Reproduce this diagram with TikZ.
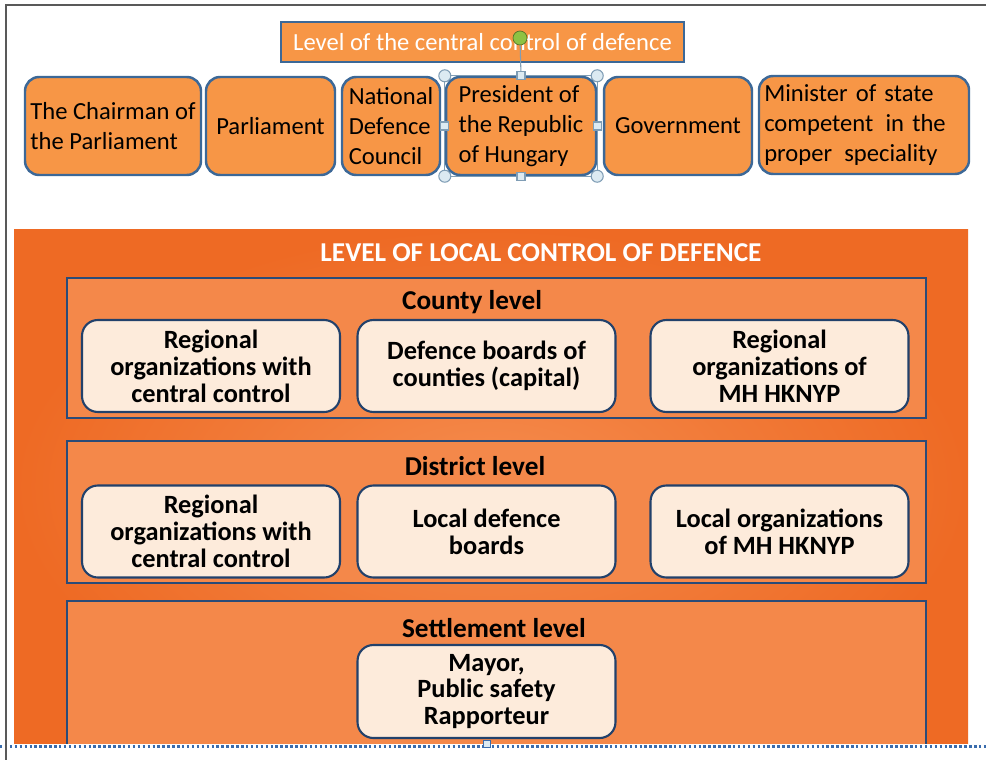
\documentclass[tikz,border=0pt]{standalone}
\usepackage{fontspec}
\setmainfont{Carlito}
\usepackage{tikz}

\definecolor{topfill}{HTML}{F79646}
\definecolor{topline}{HTML}{3C6897}
\definecolor{panelin}{HTML}{F58C4E}
\definecolor{panelout}{HTML}{EE6A24}
\definecolor{levelfill}{HTML}{F4884A}
\definecolor{levelline}{HTML}{2A4B78}
\definecolor{unitfill}{HTML}{FDEBDB}
\definecolor{unitline}{HTML}{22416B}
\definecolor{handlefill}{HTML}{DCEAF2}
\definecolor{handleline}{HTML}{7F9DB5}
\definecolor{gripfill}{HTML}{8DC243}
\definecolor{cutline}{HTML}{3A6CAD}

\begin{document}
\begin{tikzpicture}[x=0.02cm, y=-0.02cm,
    topbox/.style={draw=topline, line width=1.4pt, fill=topfill, rounded corners=8pt,
        minimum height=1.96cm, inner sep=3pt, font=\fontsize{14}{17}\selectfont},
    titlebox/.style={draw=topline, line width=1pt, fill=topfill, text=white,
        minimum width=8.06cm, minimum height=0.8cm, font=\fontsize{14}{17}\selectfont},
    levelbox/.style={draw=levelline, line width=1.2pt, fill=levelfill, minimum width=17.18cm},
    leveltitle/.style={font=\bfseries\fontsize{15.5}{16}\selectfont},
    unitbox/.style={draw=unitline, line width=1.2pt, fill=unitfill, rounded corners=9pt,
        minimum width=5.16cm, minimum height=1.84cm, align=center,
        font=\bfseries\fontsize{15}{15.3}\selectfont},
    handle/.style={draw=handleline, fill=handlefill, line width=0.6pt}
]
    \def\toprow{126}
    \def\cutat{743}
    \useasboundingbox (0,0) rectangle (986,760);
    \fill[white] (0,0) rectangle (986,760);

    \node[titlebox] (central) at (482.5,42) {Level of the central control of defence};

    \node[topbox, minimum width=3.52cm, align=left] (chair) at (113,\toprow) {The Chairman of\\the Parliament};
    \node[topbox, minimum width=2.58cm, align=center] (parl) at (270.5,\toprow) {Parliament};
    \node[topbox, minimum width=1.96cm, align=left] (ndc) at (391,\toprow) {National\\Defence\\Council};
    \node[topbox, minimum width=3cm, align=left] (pres) at (521,\toprow) {President of\\the Republic\\of Hungary};
    \node[topbox, minimum width=2.96cm, align=center] (gov) at (678,\toprow) {Government};
    \node[topbox, minimum width=4.2cm, text width=3.99cm, align=left] (minis) at (864,125) {Minister of state\\competent\, in the\\proper\, speciality};

    \draw[handleline, line width=0.6pt] (pres.north west) rectangle (pres.south east);
    \foreach \a in {north west, north east, south west, south east}
        \draw[handle] (pres.\a) circle (0.12cm);
    \foreach \a in {north, west, east, south}
        \node[handle, minimum size=0.16cm, inner sep=0] (h\a) at (pres.\a) {};
    \node[draw=gripfill!60!black, fill=gripfill, circle, minimum size=0.28cm, inner sep=0] (grip) at (520,38) {};
    \draw[handleline, line width=0.6pt] (grip) -- (hnorth);

    \shade[inner color=panelin, outer color=panelout] (14,229) rectangle (968,\cutat);
    \node[text=white, font=\bfseries\fontsize{15.5}{16}\selectfont] (local) at (541,253) {LEVEL OF LOCAL CONTROL OF DEFENCE};

    \node[levelbox, minimum height=2.8cm] (county) at (496.5,348) {};
    \node[leveltitle] (countyt) at (472,302) {County level};
    \node[unitbox] (cregio) at (211,366) {Regional\\organizations with\\central control};
    \node[unitbox] (cboard) at (486.5,366) {Defence boards of\\counties (capital)};
    \node[unitbox] (chknyp) at (779.5,366) {Regional\\organizations of\\MH HKNYP};

    \node[levelbox, minimum height=2.84cm] (district) at (496.5,512) {};
    \node[leveltitle] (districtt) at (475,466) {District level};
    \node[unitbox] (dregio) at (211,531.5) {Regional\\organizations with\\central control};
    \node[unitbox] (dboard) at (486.5,531.5) {Local defence\\boards};
    \node[unitbox] (dhknyp) at (779.5,531.5) {Local organizations\\of MH HKNYP};

    \begin{scope}
        \clip (0,0) rectangle (986,\cutat);
        \node[levelbox, minimum height=3.78cm] (settle) at (496.5,695.5) {};
        \node[leveltitle] (settlet) at (494,628) {Settlement level};
        \node[unitbox, minimum height=1.86cm] (mayor) at (486.5,691.5) {Mayor,\\Public safety\\Rapporteur};
    \end{scope}

    \coordinate (cutl) at (0,746.5);
    \coordinate (cutr) at (986,746.5);
    \draw[cutline, line width=1.4pt, dash pattern=on 1.4pt off 1.4pt] (cutl) -- (cutr);
    \node[handle, draw=cutline, minimum size=0.14cm, inner sep=0] (cuth) at (487,744) {};

    \draw[black!65, line width=0.7pt] (986,5) -- (6,5) -- (6,760);
\end{tikzpicture}
\end{document}
